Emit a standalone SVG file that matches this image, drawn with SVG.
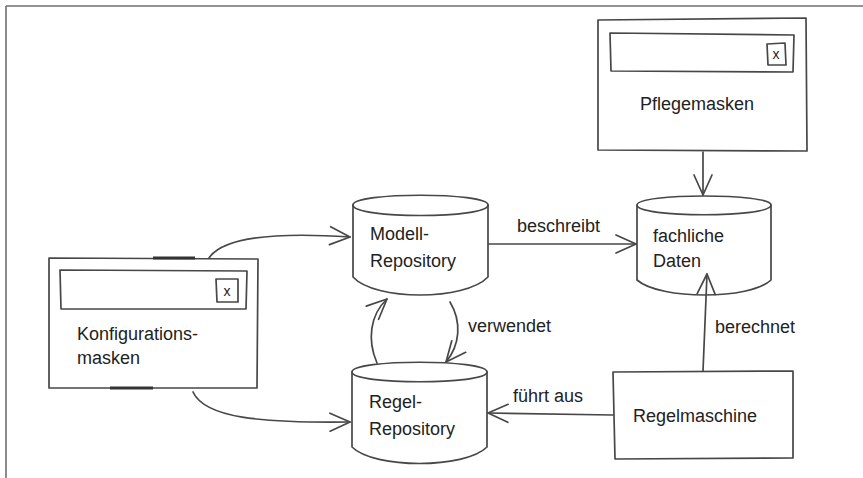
<svg xmlns="http://www.w3.org/2000/svg" width="863" height="478" viewBox="0 0 863 478">
<style>
.ln{fill:none;stroke:#474747;stroke-width:1.7;stroke-linecap:round;stroke-linejoin:round}
.sh{fill:#fff;stroke:#474747;stroke-width:1.7;stroke-linejoin:round}
.t{font-family:"Liberation Sans","DejaVu Sans",sans-serif;font-size:18px;fill:#222}
.x{font-family:"Liberation Sans","DejaVu Sans",sans-serif;font-size:14px;fill:#222;text-anchor:middle}
</style>
<defs>
<marker id="arr" markerUnits="userSpaceOnUse" markerWidth="24" markerHeight="22" viewBox="0 0 24 22" refX="21" refY="11" orient="auto" overflow="visible">
<path d="M1,2 L21,11 L1,20" fill="none" stroke="#474747" stroke-width="1.7" stroke-linecap="round" stroke-linejoin="round"/>
</marker>
</defs>
<rect width="863" height="478" fill="#fff"/>
<g id="frame">
<path d="M6,6 L863,6 M6,6 L6,478" fill="none" stroke="#707070" stroke-width="1.6"/>
</g>
<g id="pflegemasken">
<path class="sh" d="M598,20 L806,18 L807,151 L598,150 Z"/>
<path class="ln" d="M610,33 L794,35 L793,72 L611,71 Z"/>
<path class="ln" d="M767,44 L785,43 L786,65 L768,65 Z"/>
<text class="x" x="776" y="59">x</text>
<text class="t" x="640" y="110">Pflegemasken</text>
</g>
<g id="konfigurationsmasken">
<path class="sh" d="M49,258 L258,259 L257,388 L49,388 Z"/>
<path d="M153,258 L195,258 M110,388 L153,388" stroke="#333" stroke-width="3" fill="none"/>
<path class="ln" d="M60,270 L247,271 L246,309 L61,309 Z"/>
<path class="ln" d="M216,279 L238,279 L238,302 L217,302 Z"/>
<text class="x" x="227" y="296">x</text>
<text class="t" x="77" y="340">Konfigurations-</text>
<text class="t" x="77" y="364">masken</text>
</g>
<g id="modell-repository">
<path class="sh" d="M353,205 C353,192 488,192 488,205 L488,277 C465,301 375,301 353,277 Z"/>
<path class="ln" d="M353,205 C353,219 488,219 488,205"/>
<text class="t" x="370" y="240">Modell-</text>
<text class="t" x="370" y="267">Repository</text>
</g>
<g id="regel-repository">
<path class="sh" d="M352,372 C352,359 487,359 487,372 L487,447 C465,469 374,469 352,447 Z"/>
<path class="ln" d="M352,372 C352,385 487,385 487,372"/>
<text class="t" x="369" y="408">Regel-</text>
<text class="t" x="369" y="435">Repository</text>
</g>
<g id="fachliche-daten">
<path class="sh" d="M637,205 C637,193 771,193 771,205 L771,280 C750,300 660,300 637,280 Z"/>
<path class="ln" d="M637,205 C637,218 771,218 771,205"/>
<text class="t" x="653" y="242">fachliche</text>
<text class="t" x="653" y="267">Daten</text>
</g>
<g id="regelmaschine">
<path class="sh" d="M613,372 L793,371 L793,458 L615,459 Z"/>
<text class="t" x="633" y="422">Regelmaschine</text>
</g>
<g id="connectors">
<path class="ln" d="M209,258 C225,234 290,233 350,237" marker-end="url(#arr)"/>
<path class="ln" d="M193,392 C205,418 260,423 350,422" marker-end="url(#arr)"/>
<path class="ln" d="M489,244 L636,244" marker-end="url(#arr)"/>
<path class="ln" d="M703,152 L703,195" marker-end="url(#arr)"/>
<path class="ln" d="M703,371 L707,274" marker-end="url(#arr)"/>
<path class="ln" d="M613,415 L488,413" marker-end="url(#arr)"/>
<path class="ln" d="M377,363 C367,340 370,315 387,299" marker-end="url(#arr)"/>
<path class="ln" d="M450,302 C462,322 460,345 446,362" marker-end="url(#arr)"/>
<text class="t" x="517" y="232">beschreibt</text>
<text class="t" x="468" y="332">verwendet</text>
<text class="t" x="513" y="402">führt aus</text>
<text class="t" x="715" y="333">berechnet</text>
</g>
</svg>
